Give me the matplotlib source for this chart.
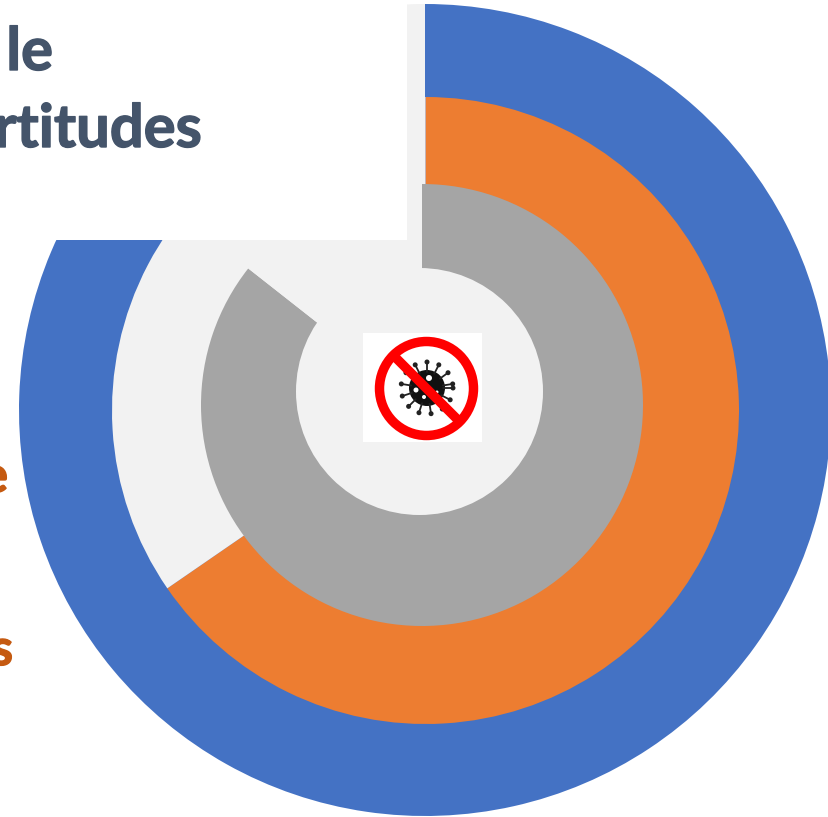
import numpy as np
import matplotlib
matplotlib.use("Agg")
import matplotlib.pyplot as plt
import matplotlib.patheffects as pe
from matplotlib.patches import Circle, Rectangle

W, H = 829, 817
# share of each ring (percent, clockwise from the top)
ring_names = ["blue", "orange", "gray"]
ring_values = [93.0, 65.4, 85.6]
ring_colors = ["#4472C4", "#ED7D31", "#A5A5A5"]
track_color = "#F2F2F2"
title_fragments = ["le", "rtitudes"]
side_fragments = ["e", "s"]

fig = plt.figure(figsize=(W / 100, H / 100), dpi=100, facecolor="white")
ax = fig.add_axes([0, 0, 1, 1])

def Y(py):
    return H - py

geometry = [((425, 410), 406), ((425.5, 410.5), 313.5), ((422, 405), 221)]
for val, col, ((cx, cy), r) in zip(ring_values, ring_colors, geometry):
    wedges, _ = ax.pie([val, 100 - val], colors=[col, track_color], startangle=90,
                       counterclock=False, center=(cx, Y(cy)), radius=r, frame=True)
    wedges[0].set_linewidth(0)
    wedges[1].set_linewidth(0)

# hole of the doughnut
ax.add_patch(Circle((419.5, Y(391.5)), 123.5, fc=track_color, ec="none", zorder=3))

# panel hiding the top-left part of the chart
ax.add_patch(Rectangle((-5, Y(240)), 412, 245, fc="white", ec="none", zorder=4))

# icon
ax.add_patch(Rectangle((363, Y(442)), 119, 109, fc="white", ec="none", zorder=5))
vx, vy = 427, 388
ax.add_patch(Circle((vx, Y(vy)), 18, fc="#111111", ec="none", zorder=6))
for a in np.deg2rad(np.arange(0, 360, 27)):
    x0, y0 = vx + 16 * np.cos(a), vy + 16 * np.sin(a)
    x1, y1 = vx + 26 * np.cos(a), vy + 26 * np.sin(a)
    ax.plot([x0, x1], [Y(y0), Y(y1)], color="#222222", lw=1.3, zorder=6, solid_capstyle="round")
    ax.add_patch(Circle((x1, Y(y1)), 2.5, fc="#222222", ec="none", zorder=6))
for sx, sy, sr in [(429, 378, 3), (416, 390, 2.5), (424, 397, 2), (437, 392, 1.5)]:
    ax.add_patch(Circle((sx, Y(sy)), sr, fc="white", ec="none", zorder=7))
ax.add_patch(Circle((426.5, Y(388.5)), 47, fc="none", ec="#FF0000", lw=6.8, zorder=8))
ax.plot([395, 458], [Y(357), Y(420)], color="#FF0000", lw=6.8, zorder=8, solid_capstyle="butt")

# clipped texts
font = dict(family="Lato", fontweight="bold", zorder=9)
texts = [
    ax.text(53, Y(70), title_fragments[0], color="#44546A", fontsize=43, ha="right", va="baseline", **font),
    ax.text(202, Y(147), title_fragments[1], color="#44546A", fontsize=43, ha="right", va="baseline", **font),
    ax.text(8, Y(492), side_fragments[0], color="#C55A11", fontsize=36, ha="right", va="baseline", **font),
    ax.text(13, Y(665), side_fragments[1], color="#C55A11", fontsize=36, ha="right", va="baseline", **font),
]
for t in texts:
    t.set_path_effects([pe.withStroke(linewidth=1.0, foreground=t.get_color())])

ax.set_xlim(0, W)
ax.set_ylim(0, H)
ax.set_aspect("equal")
ax.axis("off")
fig.savefig("out.png", dpi=100, facecolor="white")
